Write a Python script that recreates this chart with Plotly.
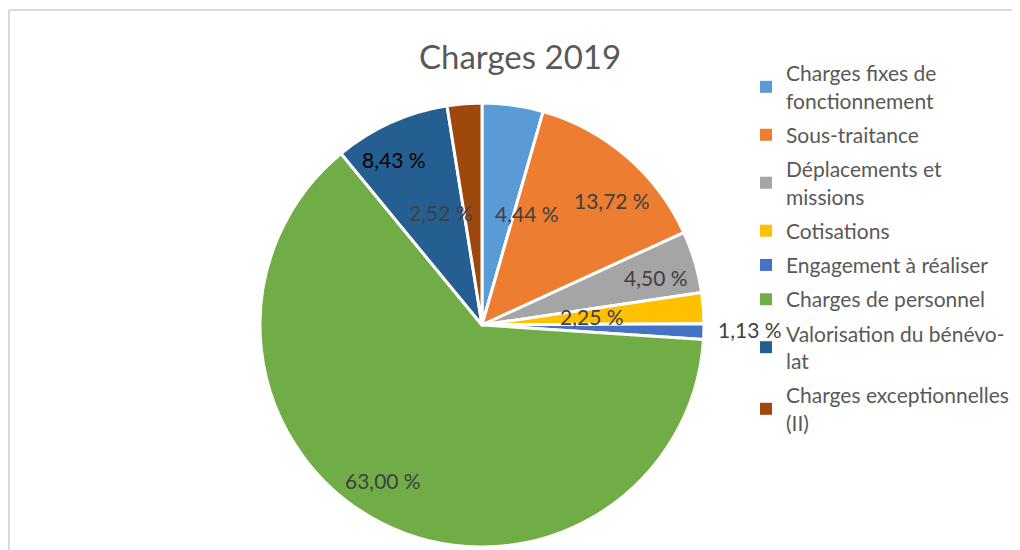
import plotly.graph_objects as go

# The page body has an 8 px margin, so the figure is sized to fill the
# remaining window and reference-screen pixels are shifted by OFF.
W, H = 1012, 542
OFF = 8

categories = [
    "Charges fixes de<br>fonctionnement",
    "Sous-traitance",
    "Déplacements et<br>missions",
    "Cotisations",
    "Engagement à réaliser",
    "Charges de personnel",
    "Valorisation du bénévo-<br>lat",
    "Charges exceptionnelles<br>(II)",
]
values = [4.44, 13.72, 4.50, 2.25, 1.13, 63.00, 8.43, 2.52]
colors = ["#5B9BD5", "#ED7D31", "#A5A5A5", "#FFC000", "#4472C4",
          "#70AD47", "#255E91", "#9E480E"]
label_text = ["4,44 %", "13,72 %", "4,50 %", "2,25 %", "1,13 %",
              "63,00 %", "8,43 %", "2,52 %"]
# label centres in screen pixels (Excel "best fit" placement)
label_px = [(527, 213), (612, 200), (656, 277), (592, 316), (750, 330),
            (383, 480), (394, 159), (441, 212)]
label_colors = ["#404040"] * 6 + ["#000000", "#404040"]

FONT = "Lato, Carlito, 'Open Sans', sans-serif"


def px_x(x):
    return (x - OFF) / W


def px_y(y):
    return 1 - (y - OFF) / H


fig = go.Figure()

# pie
cx, cy, r = 482, 325, 222
fig.add_trace(go.Pie(
    labels=categories,
    values=values,
    sort=False,
    direction="clockwise",
    rotation=0,
    marker=dict(colors=colors, line=dict(color="white", width=3)),
    textinfo="none",
    hoverinfo="label+percent",
    showlegend=False,
    domain=dict(x=[px_x(cx - r), px_x(cx + r)],
                y=[px_y(cy + r), px_y(cy - r)]),
))

# legend entries (one per category so that spacing can be controlled)
for i, (cat, col) in enumerate(zip(categories, colors)):
    fig.add_trace(go.Scatter(
        x=[None], y=[None], mode="markers", name=cat,
        marker=dict(symbol="square", size=12, color=col),
        legendgroup=f"g{i}", showlegend=True, hoverinfo="skip",
    ))

annotations = []
for txt, (lx, ly), c in zip(label_text, label_px, label_colors):
    annotations.append(dict(
        x=px_x(lx), y=px_y(ly), xref="paper", yref="paper",
        text=txt, showarrow=False, xanchor="center", yanchor="middle",
        font=dict(family=FONT, size=21, color=c),
    ))

shapes = [
    dict(type="line", xref="paper", yref="paper",
         x0=px_x(9), y0=-0.05, x1=px_x(9), y1=px_y(10),
         line=dict(color="#D9D9D9", width=2)),
    dict(type="line", xref="paper", yref="paper",
         x0=px_x(9), y0=px_y(10), x1=1.05, y1=px_y(10),
         line=dict(color="#D9D9D9", width=2)),
]

fig.update_layout(
    width=W, height=H,
    margin=dict(l=0, r=0, t=0, b=0),
    paper_bgcolor="white",
    plot_bgcolor="white",
    title=dict(text="Charges 2019", x=px_x(520), xanchor="center",
               y=px_y(57), yanchor="middle",
               font=dict(family=FONT, size=33, color="#595959")),
    xaxis=dict(visible=False),
    yaxis=dict(visible=False),
    legend=dict(x=px_x(746), y=px_y(53), xanchor="left", yanchor="top",
                font=dict(family=FONT, size=21, color="#595959"),
                tracegroupgap=4, traceorder="grouped",
                bgcolor="rgba(0,0,0,0)", itemclick=False, itemdoubleclick=False),
    annotations=annotations,
    shapes=shapes,
)

fig.write_html("out.html")
